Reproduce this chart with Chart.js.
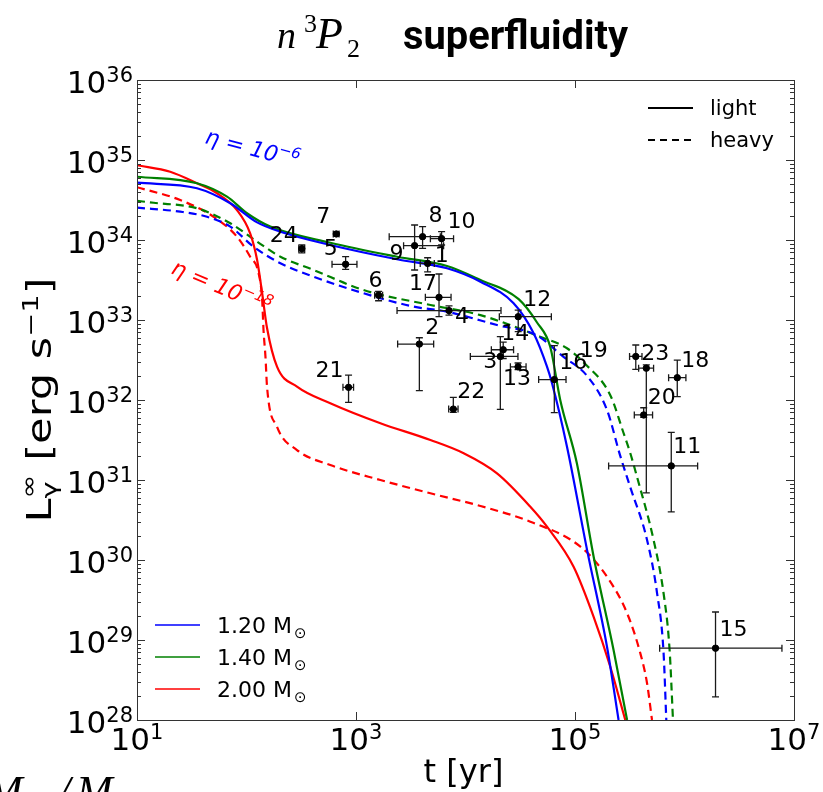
<!DOCTYPE html>
<html>
<head>
<meta charset="utf-8">
<script src="https://cdn.jsdelivr.net/npm/chart.js@4.4.1/dist/chart.umd.min.js"></script>
<style>
  html, body { margin: 0; padding: 0; background: #fff; }
  #wrap { width: 823px; height: 792px; }
</style>
</head>
<body>
<div id="wrap"><canvas id="c" width="823" height="792"></canvas></div>
<script>
// 軸の目盛 (10 のべき)
const xTickPowers = [1, 3, 5, 7];
const yTickPowers = [28, 29, 30, 31, 32, 33, 34, 35, 36];

// 冷却曲線: 1.20 Msun light
const tBlueLight = [1.0e1, 3.53e1, 7.11e1, 1.25e2, 2.04e2, 5.82e2, 2.37e3, 6.78e3, 1.37e4, 2.75e4, 4.19e4, 5.55e4, 6.17e4, 8.45e4, 1.29e5, 1.96e5, 2.50e5];
const lBlueLight = [5.2e34, 4.43e34, 2.88e34, 1.66e34, 1.27e34, 8.67e33, 5.74e33, 4.43e33, 3.01e33, 1.62e33, 6.82e32, 2.61e32, 1.62e32, 2.61e31, 1.33e30, 8.24e28, 1.0e28];
// 1.40 Msun light
const tGreenLight = [1.0e1, 3.53e1, 6.64e1, 1.01e2, 1.65e2, 5.82e2, 2.37e3, 6.78e3, 1.37e4, 3.06e4, 4.50e4, 5.94e4, 7.33e4, 1.04e5, 1.48e5, 2.25e5, 2.99e5];
const lGreenLight = [6.18e34, 5.12e34, 3.48e34, 2.16e34, 1.47e34, 9.25e33, 6.18e33, 4.73e33, 3.16e33, 1.82e33, 9.31e32, 4.63e32, 1.0e32, 1.62e31, 1.1e30, 7.5e28, 1.0e28];
// 2.00 Msun light
const tRedLight = [1.0e1, 2.01e1, 3.53e1, 5.38e1, 8.18e1, 1.08e2, 1.25e2, 1.39e2, 1.54e2, 1.90e2, 2.89e2, 5.82e2, 1.67e3, 4.78e3, 9.62e3, 1.94e4, 3.91e4, 5.55e4, 9.71e4, 1.48e5, 2.10e5, 2.88e5];
const lRedLight = [8.6e34, 7.14e34, 5.12e34, 3.84e34, 2.37e34, 1.21e34, 5.62e33, 2.16e33, 7.94e32, 2.61e32, 1.47e32, 9.1e31, 5.12e31, 3.16e31, 2.16e31, 1.21e31, 4.63e30, 2.61e30, 8.24e29, 1.95e29, 4.63e28, 1.0e28];
// 1.20 Msun heavy
const tBlueHeavy = [1.0e1, 2.48e1, 4.36e1, 7.11e1, 1.16e2, 2.04e2, 4.10e2, 1.17e3, 3.36e3, 6.78e3, 1.94e4, 4.50e4, 7.76e4, 1.29e5, 1.96e5, 2.59e5, 3.20e5, 4.55e5, 5.61e5, 6.44e5, 6.82e5];
const lBlueHeavy = [2.54e34, 2.26e34, 1.95e34, 1.47e34, 8.24e33, 5.12e33, 3.48e33, 2.16e33, 1.47e33, 1.27e33, 8.66e32, 6.4e32, 3.5e32, 2.0e32, 7.5e31, 2.0e31, 8.1e30, 1.78e30, 3.89e29, 6.9e28, 1.0e28];
// 1.40 Msun heavy
const tGreenHeavy = [1.0e1, 1.42e1, 3.53e1, 7.11e1, 1.25e2, 2.04e2, 4.10e2, 1.17e3, 4.78e3, 1.37e4, 4.79e4, 8.45e4, 1.24e5, 2.10e5, 2.78e5, 3.20e5, 3.68e5, 5.22e5, 6.44e5, 7.31e5, 7.85e5];
const lGreenHeavy = [3.09e34, 2.92e34, 2.49e34, 1.62e34, 9.53e33, 6.18e33, 4.22e33, 2.37e33, 1.54e33, 1.15e33, 6.18e32, 4.43e32, 2.82e32, 1.15e32, 3.84e31, 2.16e31, 1.1e31, 1.78e30, 3.84e29, 7.5e28, 1.0e28];
// 2.00 Msun heavy
const tRedHeavy = [1.0e1, 2.48e1, 5.01e1, 8.18e1, 1.08e2, 1.29e2, 1.39e2, 1.43e2, 1.49e2, 1.54e2, 1.90e2, 2.89e2, 5.82e2, 1.67e3, 4.78e3, 1.37e4, 3.91e4, 1.12e5, 1.96e5, 2.99e5, 3.95e5, 4.55e5, 5.05e5];
const lRedHeavy = [4.57e34, 3.16e34, 1.95e34, 1.1e34, 6.18e33, 3.84e33, 1.78e33, 7.5e32, 3.48e32, 1.47e32, 4.63e31, 2.37e31, 1.54e31, 1.0e31, 6.82e30, 4.73e30, 3.01e30, 1.47e30, 6.18e29, 2.16e29, 6.82e28, 2.88e28, 1.0e28];

// 観測データ (番号 1..24)
const obsNames = ['1','2','3','4','5','6','7','8','9','10','11','12','13','14','15','16','17','18','19','20','21','22','23','24'];
const obsT    = [4510, 3790, 20800, 7070, 804, 1608, 661, 4057, 3430, 6050, 757000, 30300, 30200, 22100, 1.92e6, 64700, 5730, 859000, 359000, 424000, 855, 7740, 448000, 320];
const obsL    = [5.1e33, 5.0e32, 3.5e32, 1.31e33, 4.97e33, 2.04e33, 1.19e34, 1.1e34, 8.5e33, 1.04e34, 1.5e31, 1.1e33, 2.6e32, 4.25e32, 7.9e28, 1.8e32, 1.92e33, 1.9e32, 3.5e32, 6.5e31, 1.44e32, 7.7e31, 2.5e32, 7.8e33];
const obsTLo  = [3860, 2400, 11070, 2370, 604, 1480, 620, 2010, 2720, 4780, 202800, 20370, 25700, 17220, 593000, 46560, 4300, 716000, 315000, 348000, 760, 7020, 381000, 300];
const obsTHi  = [5190, 5120, 30130, 21100, 1020, 1750, 700, 5890, 6310, 7780, 1.318e6, 60810, 35730, 27480, 7.76e6, 82790, 7380, 1.03e6, 409000, 511000, 950, 8550, 522000, 340];
const obsLLo  = [4.0e33, 1.31e32, 7.65e31, 1.15e33, 4.3e33, 1.74e33, 1.13e34, 7.87e33, 4.22e33, 8.66e33, 4.0e30, 7.14e32, 2.4e32, 3.3e32, 1.95e28, 6.94e31, 1.1e33, 1.1e32, 2.42e32, 6.08e31, 9.35e31, 7.0e31, 6.9e30, 6.9e33];
const obsLHi  = [6.0e33, 6.0e32, 6.18e32, 1.5e33, 6.18e33, 2.28e33, 1.25e34, 1.47e34, 1.54e34, 1.27e34, 3.94e31, 1.33e33, 2.9e32, 5.3e32, 2.24e29, 4.77e32, 3.76e33, 3.16e32, 4.87e32, 8.0e31, 2.05e32, 1.08e32, 2.75e32, 8.7e33];

// ラベルの位置ずれ (px)
const labelDx = [14, 13, -10, 13, -15, -3, -13, 13, -18, 20, 16, 19, -1, 12, 18, 19, -16, 18, -42, 18, -19, 18, 9, -18];
const labelDy = [-7, -16, 6, 7, -15, -14, -17, -20, 9, -16, -19, -16, 12, -15, -18, -16, -13, -16, -5, -17, -16, -17, -14, -12];

const massNames = ['1.20', '1.40', '2.00'];
const BLUE = '#0000ff', GREEN = '#008000', RED = '#ff0000';
const SANS = "'DejaVu Sans'";

function pts(ts, ls) {
    return ts.map((t, i) => ({ x: t, y: ls[i] }));
}

function curve(ts, ls, color, dashed) {
    return {
        type: 'line',
        data: pts(ts, ls),
        borderColor: color,
        borderWidth: 2.2,
        borderDash: dashed ? [8, 5] : [],
        pointRadius: 0,
        cubicInterpolationMode: 'monotone',
        fill: false
    };
}

// 10^n を描く
function drawPow(ctx, x, y, exp, align) {
    ctx.font = '31px ' + SANS;
    const wb = ctx.measureText('10').width;
    ctx.font = '21px ' + SANS;
    const ws = ctx.measureText(String(exp)).width;
    const total = wb + ws;
    let x0 = x;
    if (align === 'center') x0 = x - total / 2;
    if (align === 'right') x0 = x - total;
    ctx.textAlign = 'left';
    ctx.textBaseline = 'alphabetic';
    ctx.font = '31px ' + SANS;
    ctx.fillText('10', x0, y);
    ctx.font = '21px ' + SANS;
    ctx.fillText(String(exp), x0 + wb, y - 11);
}

const decor = {
    id: 'decor',
    beforeDatasetDraw(chart, args) {
        if (args.index !== 0) return;
        const ctx = chart.ctx, xs = chart.scales.x, ys = chart.scales.y;
        const c = 3.5;
        ctx.save();
        ctx.strokeStyle = '#1a1a1a';
        ctx.lineWidth = 1.3;
        for (let i = 0; i < obsT.length; i++) {
            const px = xs.getPixelForValue(obsT[i]);
            const py = ys.getPixelForValue(obsL[i]);
            const x0 = xs.getPixelForValue(obsTLo[i]);
            const x1 = xs.getPixelForValue(obsTHi[i]);
            const y0 = ys.getPixelForValue(obsLLo[i]);
            const y1 = ys.getPixelForValue(obsLHi[i]);
            ctx.beginPath();
            ctx.moveTo(x0, py); ctx.lineTo(x1, py);
            ctx.moveTo(x0, py - c); ctx.lineTo(x0, py + c);
            ctx.moveTo(x1, py - c); ctx.lineTo(x1, py + c);
            ctx.moveTo(px, y0); ctx.lineTo(px, y1);
            ctx.moveTo(px - c, y0); ctx.lineTo(px + c, y0);
            ctx.moveTo(px - c, y1); ctx.lineTo(px + c, y1);
            ctx.stroke();
        }
        ctx.restore();
    },
    afterDraw(chart) {
        const ctx = chart.ctx, xs = chart.scales.x, ys = chart.scales.y;
        const a = chart.chartArea;
        ctx.save();

        // 枠と目盛
        ctx.strokeStyle = '#333';
        ctx.lineWidth = 1;
        ctx.strokeRect(a.left + 0.5, a.top + 0.5, a.right - a.left, a.bottom - a.top);
        ctx.beginPath();
        xTickPowers.forEach(p => {
            const x = Math.round(xs.getPixelForValue(Math.pow(10, p))) + 0.5;
            ctx.moveTo(x, a.bottom); ctx.lineTo(x, a.bottom - 8);
            ctx.moveTo(x, a.top); ctx.lineTo(x, a.top + 8);
        });
        yTickPowers.forEach(p => {
            for (let m = 1; m < 10; m++) {
                const v = m * Math.pow(10, p);
                if (v > 1e36) break;
                const y = Math.round(ys.getPixelForValue(v)) + 0.5;
                const len = m === 1 ? 8 : 4;
                ctx.moveTo(a.left, y); ctx.lineTo(a.left + len, y);
                ctx.moveTo(a.right, y); ctx.lineTo(a.right - len, y);
            }
        });
        ctx.stroke();

        // 目盛ラベル
        ctx.fillStyle = '#000';
        xTickPowers.forEach(p => {
            drawPow(ctx, xs.getPixelForValue(Math.pow(10, p)), a.bottom + 30, p, 'center');
        });
        yTickPowers.forEach(p => {
            drawPow(ctx, a.left - 4, ys.getPixelForValue(Math.pow(10, p)) + 13, p, 'right');
        });

        // 軸タイトル
        ctx.textAlign = 'center';
        ctx.textBaseline = 'alphabetic';
        ctx.font = '32px ' + SANS;
        ctx.fillText('t [yr]', (a.left + a.right) / 2 - 2, 782);

        ctx.save();
        ctx.translate(51, 400);
        ctx.rotate(-Math.PI / 2);
        ctx.textAlign = 'left';
        ctx.font = '33px ' + SANS;
        const wL = ctx.measureText('L').width;
        const wMid = ctx.measureText(' [erg s').width;
        const wEnd = ctx.measureText(']').width;
        ctx.font = '22px ' + SANS;
        const wSub = Math.max(ctx.measureText('\u03b3').width, ctx.measureText('\u221e').width);
        const wM1 = ctx.measureText('\u22121').width;
        const full = wL + wSub + wMid + wM1 + wEnd;
        ctx.scale(245 / full, 1);
        let x = -full / 2;
        ctx.font = '33px ' + SANS;
        ctx.fillText('L', x, 0); x += wL;
        ctx.font = '22px ' + SANS;
        ctx.fillText('\u03b3', x, 6);
        ctx.fillText('\u221e', x, -15);
        x += wSub;
        ctx.font = '33px ' + SANS;
        ctx.fillText(' [erg s', x, 0); x += wMid;
        ctx.font = '22px ' + SANS;
        ctx.fillText('\u22121', x, -13); x += wM1;
        ctx.font = '33px ' + SANS;
        ctx.fillText(']', x, 0);
        ctx.restore();

        // タイトル
        ctx.textAlign = 'left';
        ctx.font = "italic 38px 'Liberation Serif'";
        ctx.fillText('n', 277, 48);
        ctx.font = "26px 'Liberation Serif'";
        ctx.fillText('3', 304, 32);
        ctx.font = "italic 44px 'Liberation Serif'";
        ctx.fillText('P', 316, 48);
        ctx.font = "26px 'Liberation Serif'";
        ctx.fillText('2', 347, 57);
        ctx.font = 'bold 40px Roboto';
        const wt = ctx.measureText('superfluidity').width;
        ctx.save();
        ctx.translate(403, 49);
        ctx.scale(225 / wt, 1);
        ctx.fillText('superfluidity', 0, 0);
        ctx.restore();

        // 点ラベル
        ctx.font = '22px ' + SANS;
        ctx.textAlign = 'center';
        ctx.textBaseline = 'middle';
        obsNames.forEach((n, i) => {
            const px = xs.getPixelForValue(obsT[i]);
            const py = ys.getPixelForValue(obsL[i]);
            ctx.fillText(n, px + labelDx[i], py + labelDy[i]);
        });

        // eta 注記
        ctx.textBaseline = 'alphabetic';
        ctx.textAlign = 'left';
        ctx.save();
        ctx.fillStyle = BLUE;
        ctx.translate(204, 143);
        ctx.rotate(15 * Math.PI / 180);
        ctx.font = 'italic 22px ' + SANS;
        ctx.fillText('\u03b7 = 10', 0, 0);
        let w = ctx.measureText('\u03b7 = 10').width;
        ctx.font = 'italic 15px ' + SANS;
        ctx.fillText('\u22126', w, -9);
        ctx.restore();

        ctx.save();
        ctx.fillStyle = RED;
        ctx.translate(170, 273);
        ctx.rotate(23 * Math.PI / 180);
        ctx.font = 'italic 22px ' + SANS;
        ctx.fillText('\u03b7 = 10', 0, 0);
        w = ctx.measureText('\u03b7 = 10').width;
        ctx.font = 'italic 15px ' + SANS;
        ctx.fillText('\u221218', w, -9);
        ctx.restore();

        // 凡例 (質量)
        const colors = [BLUE, GREEN, RED];
        massNames.forEach((m, i) => {
            const y = 625 + i * 32;
            ctx.strokeStyle = colors[i];
            ctx.lineWidth = 1.5;
            ctx.beginPath();
            ctx.moveTo(155, y); ctx.lineTo(200, y);
            ctx.stroke();
            ctx.fillStyle = '#000';
            ctx.font = '22px ' + SANS;
            ctx.fillText(m + ' M', 217, y + 8);
            const wm = ctx.measureText(m + ' M').width;
            ctx.font = '15px ' + SANS;
            ctx.fillText('\u2299', 217 + wm + 2, y + 13);
        });

        // 凡例 (light / heavy)
        ctx.strokeStyle = '#000';
        ctx.lineWidth = 1.8;
        ctx.beginPath();
        ctx.moveTo(648, 108); ctx.lineTo(693, 108);
        ctx.stroke();
        ctx.setLineDash([7, 5]);
        ctx.beginPath();
        ctx.moveTo(648, 140); ctx.lineTo(693, 140);
        ctx.stroke();
        ctx.setLineDash([]);
        ctx.font = '21px ' + SANS;
        ctx.fillText('light', 710, 115);
        ctx.fillText('heavy', 710, 147);

        // 下端で切れた文字
        ctx.font = "italic 44px 'Liberation Serif'";
        ctx.fillText('M', -14, 806);
        ctx.fillText('/', 58, 806);
        ctx.fillText('M', 76, 806);

        ctx.restore();
    }
};

new Chart(document.getElementById('c'), {
    type: 'line',
    data: {
        datasets: [
            {
                type: 'scatter',
                data: pts(obsT, obsL),
                pointRadius: 3.2,
                pointBackgroundColor: '#000',
                pointBorderColor: '#000',
                showLine: false
            },
            curve(tBlueLight, lBlueLight, BLUE, false),
            curve(tGreenLight, lGreenLight, GREEN, false),
            curve(tRedLight, lRedLight, RED, false),
            curve(tBlueHeavy, lBlueHeavy, BLUE, true),
            curve(tGreenHeavy, lGreenHeavy, GREEN, true),
            curve(tRedHeavy, lRedHeavy, RED, true)
        ]
    },
    options: {
        responsive: false,
        animation: false,
        events: [],
        layout: { padding: { left: 137, right: 29, top: 80, bottom: 72 } },
        plugins: { legend: { display: false }, tooltip: { enabled: false } },
        scales: {
            x: { type: 'logarithmic', min: 1e1, max: 1e7, display: false },
            y: { type: 'logarithmic', min: 1e28, max: 1e36, display: false }
        }
    },
    plugins: [decor]
});
</script>
</body>
</html>
